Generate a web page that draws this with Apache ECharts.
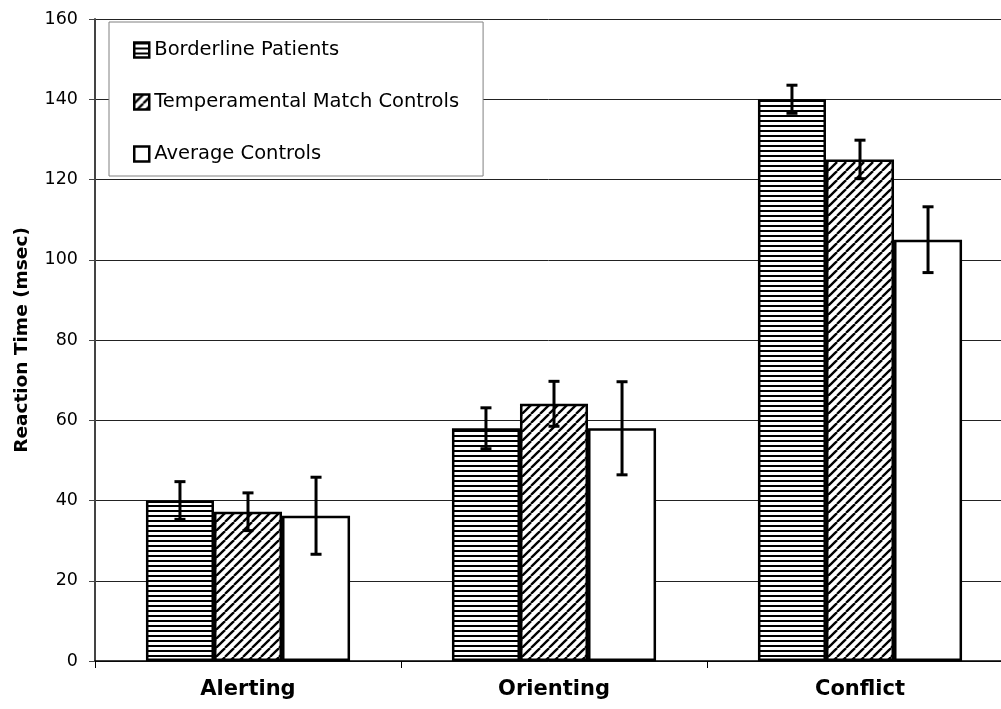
<!DOCTYPE html>
<html>
<head>
<meta charset="utf-8">
<script src="https://cdn.jsdelivr.net/npm/echarts@6/dist/echarts.min.js"></script>
<style>
  html, body { margin: 0; padding: 0; background: #fff; }
  #chart { width: 1001px; height: 709px; }
</style>
</head>
<body>
<div id="chart"></div>
<script>
const categories = ["Alerting", "Orienting", "Conflict"];
const groupNames = ["Borderline Patients", "Temperamental Match Controls", "Average Controls"];
const borderline = [40, 58, 140];
const borderlineErr = [4.7, 5.1, 3.5];
const temperamental = [37.2, 64.1, 125];
const temperamentalErr = [4.7, 5.6, 4.8];
const average = [36.2, 58, 105];
const averageErr = [9.6, 11.6, 8.2];

// pattern fills drawn on small canvases
function hStripes() {
	const c = document.createElement("canvas");
	c.width = 8; c.height = 5;
	const ctx = c.getContext("2d");
	ctx.fillStyle = "#fff"; ctx.fillRect(0, 0, 8, 5);
	ctx.fillStyle = "#000"; ctx.fillRect(0, 0, 8, 2);
	return c;
}
function diagStripes() {
	const s = 9;
	const c = document.createElement("canvas");
	c.width = s; c.height = s;
	const ctx = c.getContext("2d");
	ctx.fillStyle = "#fff"; ctx.fillRect(0, 0, s, s);
	ctx.strokeStyle = "#000"; ctx.lineWidth = 2.3;
	for (let k = -1; k <= 1; k++) {
		ctx.beginPath();
		ctx.moveTo(k * s, s);
		ctx.lineTo(k * s + s, 0);
		ctx.stroke();
	}
	return c;
}

const fills = [
	{ image: hStripes(), repeat: "repeat" },
	{ image: diagStripes(), repeat: "repeat" },
	"#fff",
];
const values = [borderline, temperamental, average];
const errs = [borderlineErr, temperamentalErr, averageErr];

const errData = [];
values.forEach((arr, g) => {
	arr.forEach((v, i) => errData.push([i, v, errs[g][i], g]));
});

const chart = echarts.init(document.getElementById("chart"));
const font = "DejaVu Sans";

const barSeries = groupNames.map((name, g) => ({
	name: name,
	type: "bar",
	barGap: "0%",
	barCategoryGap: "33.3%",
	itemStyle: { color: fills[g], borderColor: "#000", borderWidth: 2.5 },
	emphasis: { disabled: true },
	data: values[g],
}));

const option = {
	animation: false,
	backgroundColor: "#fff",
	textStyle: { fontFamily: font, color: "#000" },
	grid: { left: 95, width: 918, top: 19, bottom: 48, containLabel: false, outerBoundsMode: "none" },
	legend: {
		orient: "vertical",
		left: 109,
		top: 22,
		padding: [18, 24, 12, 24],
		itemGap: 32,
		itemWidth: 15,
		itemHeight: 15,
		icon: "rect",
		backgroundColor: "#fff",
		borderColor: "#808080",
		borderWidth: 1,
		itemStyle: { borderWidth: 2.5 },
		textStyle: { fontFamily: font, fontSize: 19.5, color: "#000" },
		data: groupNames,
		selectedMode: false,
	},
	xAxis: {
		type: "category",
		data: categories,
		axisLine: { lineStyle: { color: "#000", width: 1.5 } },
		axisTick: { show: true, length: 7, lineStyle: { color: "#000" } },
		axisLabel: { fontFamily: font, fontSize: 21, fontWeight: "bold", color: "#000", margin: 18 },
	},
	yAxis: {
		type: "value",
		min: 0,
		max: 160,
		interval: 20,
		name: "Reaction Time (msec)",
		nameLocation: "middle",
		nameGap: 63,
		nameTextStyle: { fontFamily: font, fontSize: 18.5, fontWeight: "bold", color: "#000" },
		axisLine: { show: true, lineStyle: { color: "#444", width: 2 } },
		axisTick: { show: true, length: 6, lineStyle: { color: "#444" } },
		axisLabel: { fontFamily: font, fontSize: 17.5, color: "#000", margin: 17 },
		splitLine: { lineStyle: { color: "#222", width: 1 } },
	},
	series: barSeries.concat([
		{
			type: "custom",
			name: "error",
			z: 5,
			silent: true,
			data: errData,
			renderItem: function (params, api) {
				const cat = api.value(0), val = api.value(1), err = api.value(2), g = api.value(3);
				const bandW = api.size([1, 0])[0];
				const barW = bandW * (1 - 0.333) / 3;
				const x = api.coord([cat, val])[0] + (g - 1) * barW;
				const yTop = api.coord([cat, val + err])[1];
				const yBot = api.coord([cat, val - err])[1];
				const cap = 5.5;
				const style = { stroke: "#000", lineWidth: 3 };
				return {
					type: "group",
					children: [
						{ type: "line", shape: { x1: x, y1: yTop, x2: x, y2: yBot }, style: style },
						{ type: "line", shape: { x1: x - cap, y1: yTop, x2: x + cap, y2: yTop }, style: style },
						{ type: "line", shape: { x1: x - cap, y1: yBot, x2: x + cap, y2: yBot }, style: style },
					],
				};
			},
		},
	]),
};

chart.setOption(option);
</script>
</body>
</html>
